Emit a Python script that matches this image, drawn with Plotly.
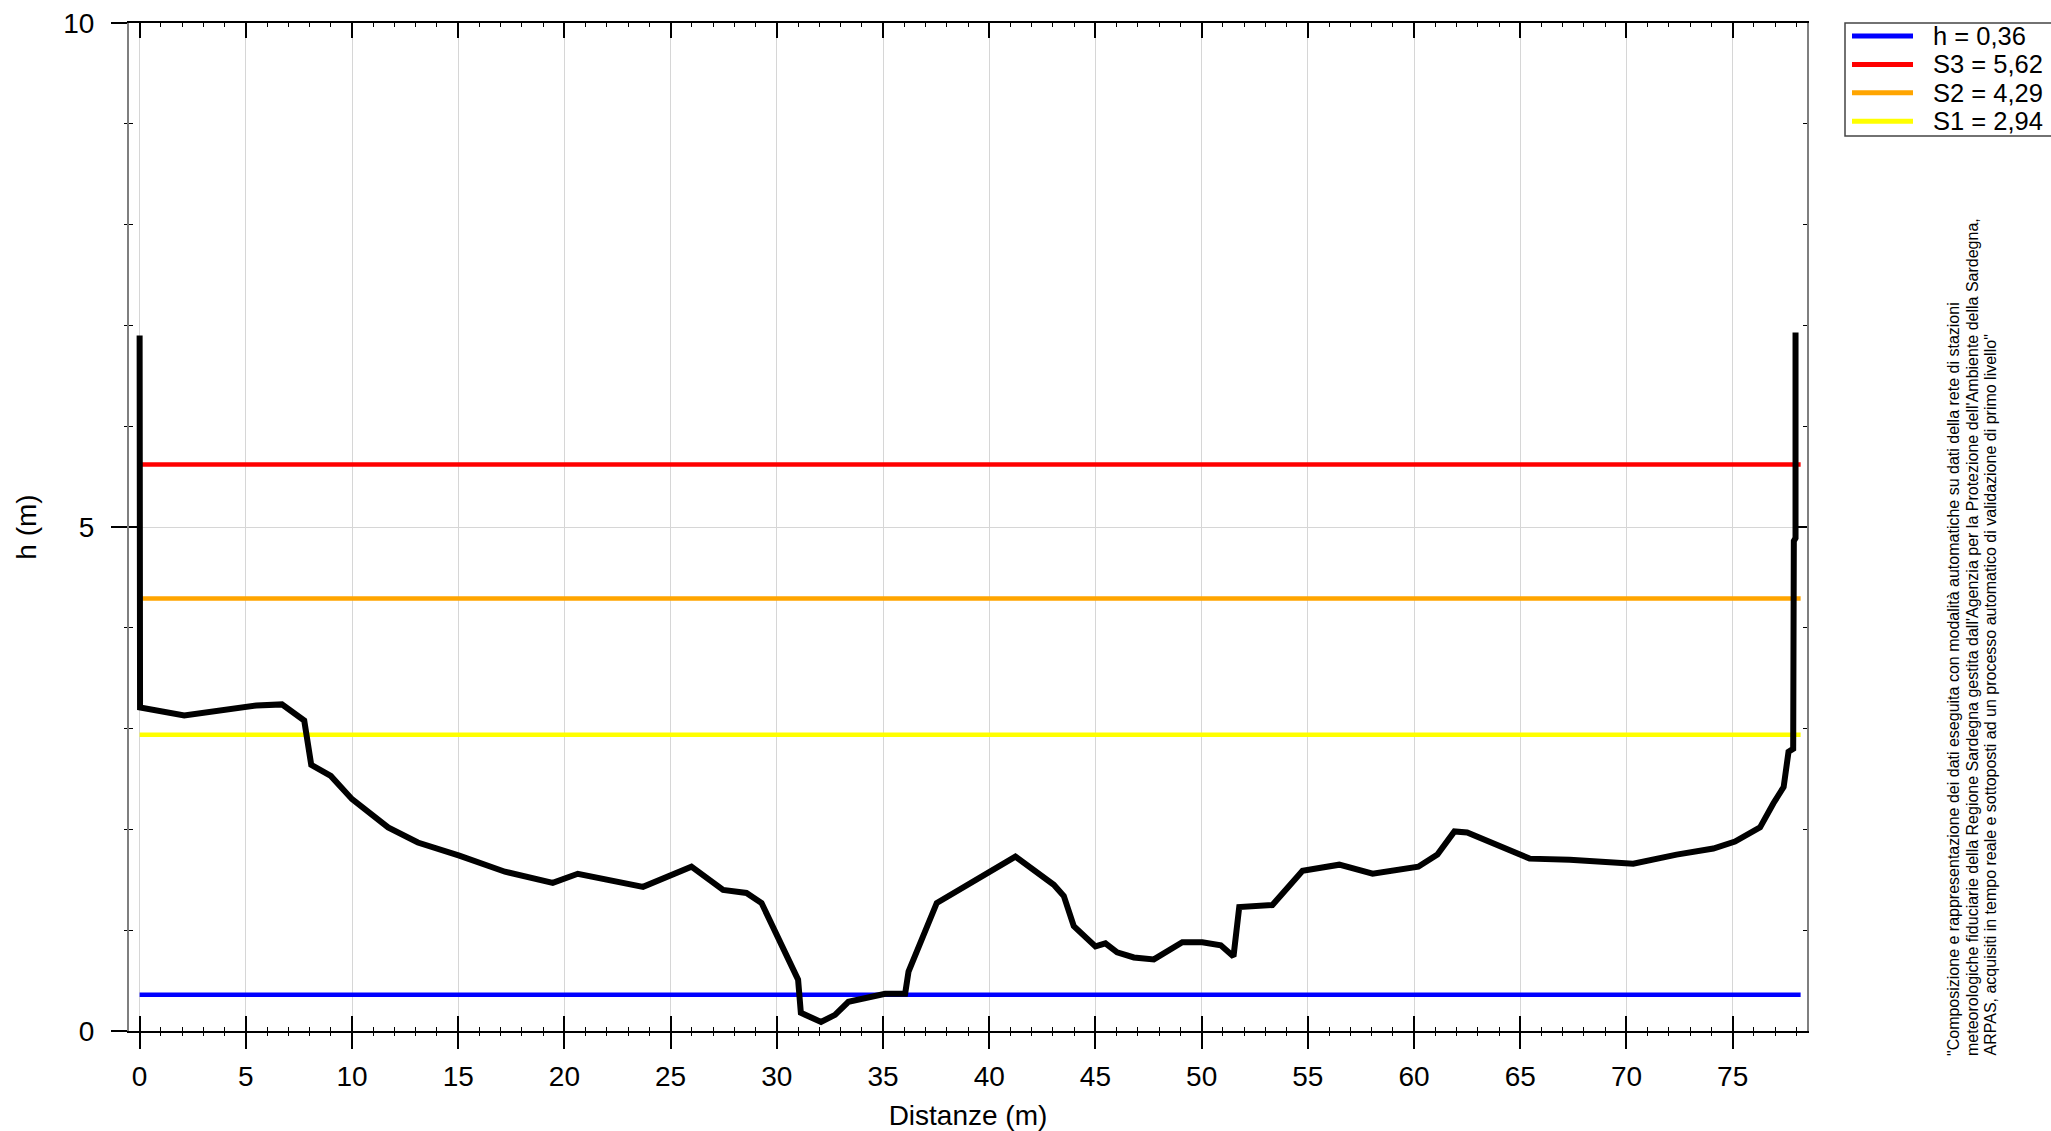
import plotly.graph_objects as go

# ---- data -------------------------------------------------------------
dist = [0.0, 0.02, 2.1, 4.7, 5.5, 6.7, 7.75, 8.08, 9.0, 10.0, 11.7, 13.1, 15.05, 17.2,
        19.45, 20.63, 23.7, 25.98, 27.47, 28.57, 29.28, 31.0, 31.13, 32.08, 32.74,
        33.37, 35.1, 36.04, 36.2, 37.53, 40.13, 41.23, 43.04, 43.51, 43.98, 45.0,
        45.47, 46.02, 46.81, 47.75, 49.09, 50.03, 50.9, 51.5, 51.77, 53.33, 54.75,
        56.48, 58.05, 60.2, 61.1, 61.9, 62.5, 65.44, 67.33, 70.32, 72.36, 74.09,
        75.11, 76.29, 76.92, 77.4, 77.63, 77.85, 77.88, 77.96, 77.96]
quota = [6.9, 3.21, 3.13, 3.21, 3.23, 3.24, 3.08, 2.64, 2.53, 2.30, 2.02, 1.87, 1.74, 1.58,
         1.47, 1.56, 1.43, 1.63, 1.40, 1.37, 1.27, 0.51, 0.18, 0.09, 0.16,
         0.29, 0.37, 0.37, 0.59, 1.27, 1.59, 1.73, 1.45, 1.34, 1.04, 0.84,
         0.87, 0.78, 0.73, 0.71, 0.88, 0.88, 0.85, 0.74, 1.23, 1.25, 1.59,
         1.65, 1.56, 1.63, 1.75, 1.98, 1.97, 1.71, 1.70, 1.66, 1.75, 1.81,
         1.88, 2.02, 2.26, 2.42, 2.77, 2.80, 4.86, 4.89, 6.93]

soglie_nomi = ["h", "S3", "S2", "S1"]
soglie_valori = [0.36, 5.62, 4.29, 2.94]
soglie_colori = ["#0000ff", "#ff0000", "#ffa500", "#ffff00"]
soglie_x = [0.0, 78.2]

x_range = [-0.5, 78.5]
y_range = [0, 10]

nota_righe = [
    "\"Composizione e rappresentazione dei dati eseguita con modalità automatiche su dati della rete di stazioni",
    "meteorologiche fiduciarie della Regione Sardegna gestita dall'Agenzia per la Protezione dell'Ambiente della Sardegna,",
    "ARPAS, acquisiti in tempo reale e sottoposti ad un processo automatico di validazione di primo livello\"",
]

# ---- layout geometry (pixels) ----------------------------------------
W, H = 2051, 1131
L, R, T, B = 129, 1807, 23, 1031
FONT = "Liberation Sans, Arial, sans-serif"
NARROW = "Liberation Sans Narrow, Arial Narrow, Liberation Sans"


def px_x(px):
    return (px - L) / (R - L)


def px_y(py):
    return (B - py) / (B - T)


fig = go.Figure()

for nome, val, col in zip(soglie_nomi, soglie_valori, soglie_colori):
    fig.add_trace(go.Scatter(x=soglie_x, y=[val, val], mode="lines",
                             line=dict(color=col, width=4.5), name=nome,
                             showlegend=False, hoverinfo="skip"))

fig.add_trace(go.Scatter(x=dist, y=quota, mode="lines", xaxis="x2", yaxis="y2",
                         line=dict(color="black", width=6), showlegend=False,
                         hoverinfo="skip"))

# ---- custom legend ---------------------------------------------------
shapes = [dict(type="rect", xref="paper", yref="paper",
               x0=px_x(1845), x1=px_x(2070), y0=px_y(136), y1=px_y(23),
               line=dict(color="#444444", width=1.5), fillcolor="white")]
annotations = []
for i, (nome, val, col) in enumerate(zip(soglie_nomi, soglie_valori, soglie_colori)):
    yc = 36 + i * 28.4
    shapes.append(dict(type="line", xref="paper", yref="paper",
                       x0=px_x(1852), x1=px_x(1913), y0=px_y(yc), y1=px_y(yc),
                       line=dict(color=col, width=5)))
    testo = f"{nome} = {val:.2f}".replace(".", ",")
    annotations.append(dict(xref="paper", yref="paper", x=px_x(1931), y=px_y(yc),
                            xanchor="left", yanchor="middle", showarrow=False,
                            text=testo, font=dict(family=FONT, size=25.5, color="black")))

for px, riga in zip([1953, 1972, 1990], nota_righe):
    annotations.append(dict(xref="paper", yref="paper", x=px_x(px), y=px_y(1058),
                            xanchor="center", yanchor="bottom", showarrow=False,
                            textangle=-90, text=riga,
                            font=dict(family=NARROW, size=16, color="black")))

fig.update_layout(
    width=W, height=H,
    margin=dict(l=L, r=W - R, t=T, b=H - B, pad=0, autoexpand=False),
    paper_bgcolor="white", plot_bgcolor="white",
    font=dict(family=FONT, color="black"),
    shapes=shapes, annotations=annotations,
    xaxis=dict(range=x_range, tick0=0, dtick=5, ticks="outside", ticklen=16,
               tickwidth=1.5, tickcolor="black", showline=True, linecolor="black",
               linewidth=1.5, mirror=True, showgrid=True, gridcolor="#d6d6d6",
               gridwidth=1.2, zeroline=False, tickfont=dict(size=28),
               ticklabelstandoff=4, automargin=False,
               title=dict(text="Distanze (m)", font=dict(size=28), standoff=16),
               minor=dict(ticks="outside", ticklen=3, dtick=1, tick0=0,
                          tickcolor="black", tickwidth=1, showgrid=False)),
    xaxis2=dict(range=x_range, overlaying="x", side="bottom", anchor="y2",
                tick0=0, dtick=5, ticks="inside", ticklen=15, tickwidth=1.5,
                tickcolor="black", mirror="allticks", showline=False,
                showticklabels=False, showgrid=False, zeroline=False, automargin=False,
                minor=dict(ticks="inside", ticklen=4, dtick=1, tick0=0,
                           tickcolor="black", tickwidth=1, showgrid=False)),
    yaxis=dict(range=y_range, tick0=0, dtick=5, ticks="outside", ticklen=16,
               tickwidth=1.5, tickcolor="black", showline=True, linecolor="#7f7f7f",
               linewidth=2, mirror=True, showgrid=True, gridcolor="#d6d6d6",
               gridwidth=1.2, zeroline=False, tickfont=dict(size=28),
               ticklabelstandoff=11, automargin=False,
               title=dict(text="h (m)", font=dict(size=28), standoff=18),
               minor=dict(ticks="outside", ticklen=3, dtick=1, tick0=0,
                          tickcolor="black", tickwidth=1, showgrid=False)),
    yaxis2=dict(range=y_range, overlaying="y", side="right", anchor="x2",
                tick0=0, dtick=5, ticks="inside", ticklen=13, tickwidth=1.5,
                tickcolor="black", mirror="allticks", showline=False,
                showticklabels=False, showgrid=False, zeroline=False, automargin=False,
                minor=dict(ticks="inside", ticklen=4, dtick=1, tick0=0,
                           tickcolor="black", tickwidth=1, showgrid=False)),
)

fig.write_html("out.html", config={"displayModeBar": False},
               post_script="document.body.style.margin='0';document.body.style.overflow='hidden';")
